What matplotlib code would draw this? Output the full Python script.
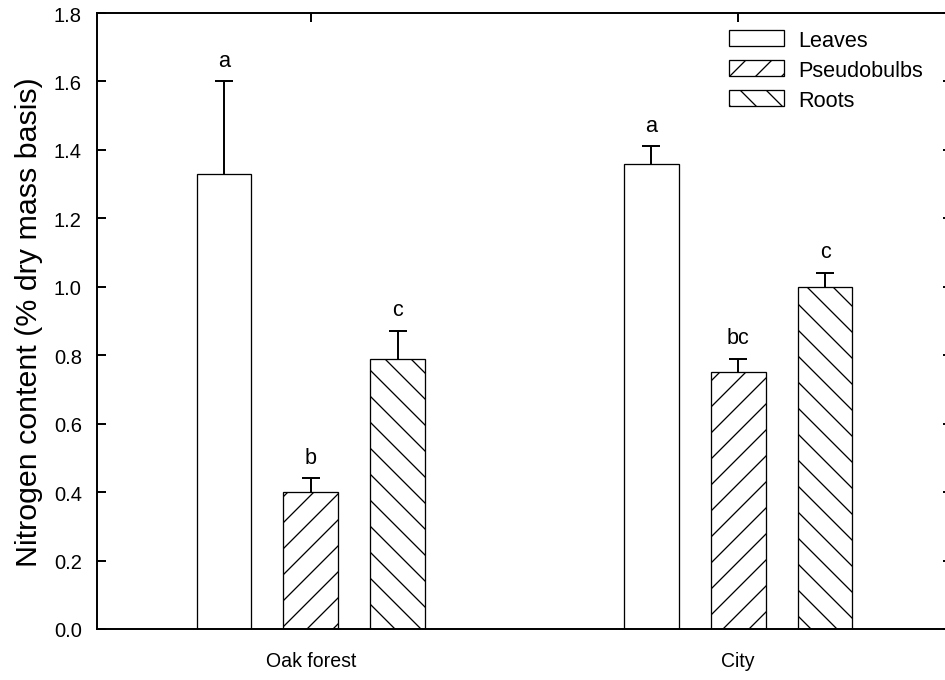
import numpy as np
import matplotlib
matplotlib.use("Agg")
import matplotlib.pyplot as plt

# nitrogen content per organ and site
sites = ["Oak forest", "City"]
organs = ["Leaves", "Pseudobulbs", "Roots"]
hatches = ["", "//", "\\\\"]
means = {
    "Leaves": [1.33, 1.36],
    "Pseudobulbs": [0.40, 0.75],
    "Roots": [0.79, 1.00],
}
errors = {
    "Leaves": [0.27, 0.05],
    "Pseudobulbs": [0.04, 0.04],
    "Roots": [0.08, 0.04],
}
letters = {
    "Leaves": ["a", "a"],
    "Pseudobulbs": ["b", "bc"],
    "Roots": ["c", "c"],
}

plt.rcParams['font.family'] = ['Liberation Sans', 'DejaVu Sans']
plt.rcParams['hatch.linewidth'] = 0.6

DPI = 156
fig = plt.figure(figsize=(945 / DPI, 681 / DPI), dpi=DPI)
ax = fig.add_axes([97 / 945, 51 / 681, 855 / 945, 616 / 681])

x = np.arange(len(sites))
width = 0.128
step = 0.203

for i, organ in enumerate(organs):
    pos = x + (i - 1) * step
    ax.bar(pos, means[organ], width, color="white", edgecolor="black",
           linewidth=0.6, hatch=hatches[i], label=organ, zorder=2)
    yerr = [np.zeros(len(sites)), errors[organ]]
    eb = ax.errorbar(pos, means[organ], yerr=yerr, fmt="none", ecolor="black",
                     elinewidth=0.9, capsize=4.2, capthick=0.9, zorder=1)
    # only the upper cap is wanted
    eb[1][0].set_visible(False)
    for p, m, e, s in zip(pos, means[organ], errors[organ], letters[organ]):
        ax.annotate(s, (p, m + e), xytext=(0, 5), textcoords="offset points",
                    ha="center", va="bottom", fontsize=10)

ax.set_xlim(-0.5, 1.5)
ax.set_ylim(0, 1.8)
ax.set_yticks(np.arange(0, 1.81, 0.2))
ax.set_yticklabels([f"{v:.1f}" for v in np.arange(0, 1.81, 0.2)])
ax.set_xticks(x)
ax.set_xticklabels(sites)

ax.tick_params(axis="y", direction="in", length=4.2, width=0.9, right=True,
               labelsize=9.3, pad=7)
ax.tick_params(axis="x", direction="in", length=4.2, width=0.9, top=True,
               bottom=False, labelsize=9, pad=10)
for sp in ax.spines.values():
    sp.set_linewidth(0.9)

ax.set_ylabel("Nitrogen content (% dry mass basis)", fontsize=14, labelpad=5)

ax.legend(loc="upper left", bbox_to_anchor=(0.739, 0.973), frameon=False,
          fontsize=10, handlelength=2.54, handleheight=0.78,
          handletextpad=0.65, labelspacing=0.42, borderpad=0,
          borderaxespad=0)

fig.savefig("out.png", dpi=DPI)
